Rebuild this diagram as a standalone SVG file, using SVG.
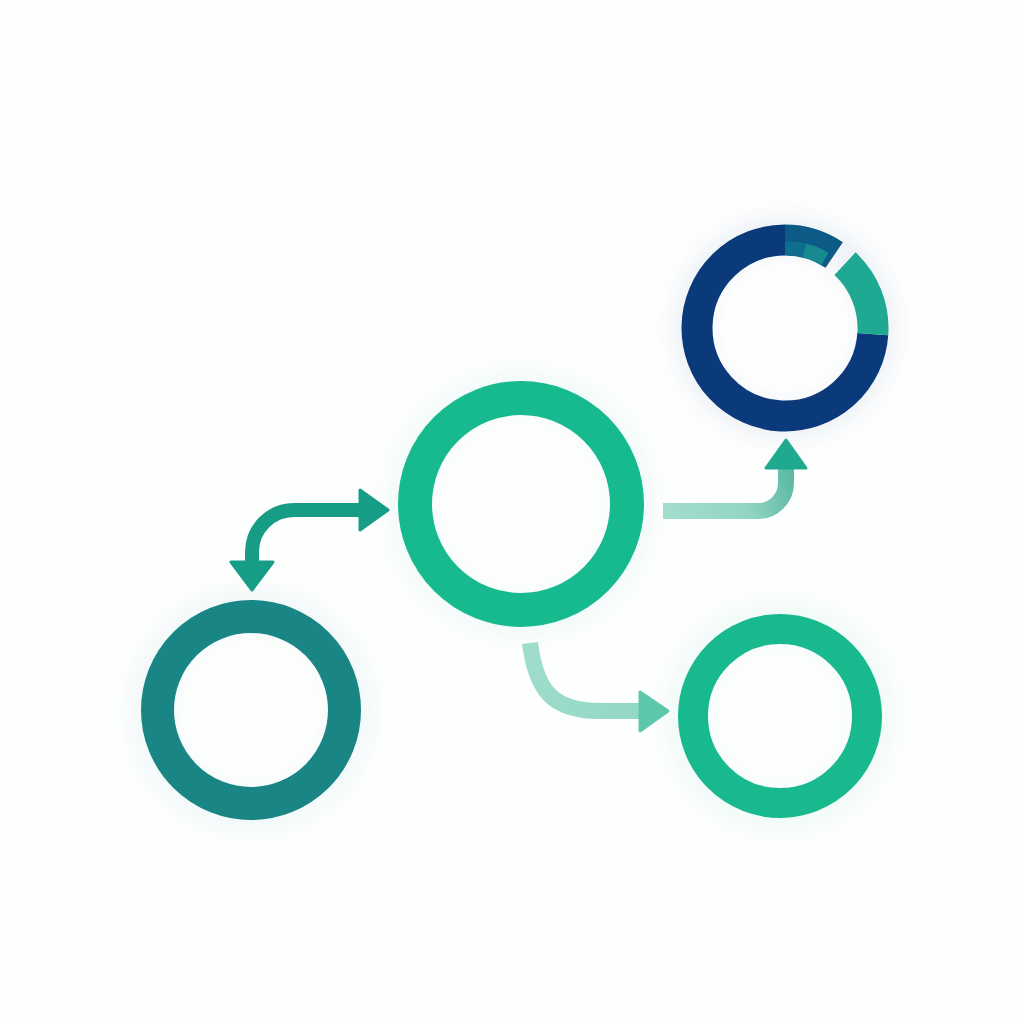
<svg xmlns="http://www.w3.org/2000/svg" width="1024" height="1024" viewBox="0 0 1024 1024">
  <defs>
    <style>
      .ring { fill: none; }
      .conn { fill: none; stroke-linecap: butt; stroke-linejoin: round; }
    </style>
    <filter id="halo" x="-30%" y="-30%" width="160%" height="160%">
      <feGaussianBlur stdDeviation="10"/>
    </filter>
    <linearGradient id="gUp" gradientUnits="userSpaceOnUse" x1="663" y1="511" x2="790" y2="470">
      <stop offset="0" stop-color="#a3ddcd"/>
      <stop offset="0.6" stop-color="#93d5c3"/>
      <stop offset="1" stop-color="#5cb9a4"/>
    </linearGradient>
    <linearGradient id="gDown" gradientUnits="userSpaceOnUse" x1="530" y1="643" x2="645" y2="711">
      <stop offset="0" stop-color="#a0dccb"/>
      <stop offset="1" stop-color="#93d8c6"/>
    </linearGradient>
  </defs>

  <rect width="1024" height="1024" fill="#fdfefe"/>

  <g id="halos" filter="url(#halo)" opacity="0.05">
    <circle cx="251" cy="710" r="100" fill="none" stroke="#1a8585" stroke-width="40"/>
    <circle cx="521" cy="504" r="112" fill="none" stroke="#17b98f" stroke-width="40"/>
    <circle cx="780" cy="716" r="94" fill="none" stroke="#17b98f" stroke-width="40"/>
    <circle cx="785" cy="328" r="94" fill="none" stroke="#0b3a7a" stroke-width="40"/>
  </g>

  <g id="node-left">
    <circle class="ring" cx="251" cy="710" r="93.5" stroke="#1a8585" stroke-width="33"/>
  </g>

  <g id="node-center">
    <circle class="ring" cx="521" cy="504" r="106" stroke="#17b98f" stroke-width="34"/>
  </g>

  <g id="node-bottom-right">
    <circle class="ring" cx="780" cy="716" r="87" stroke="#19b98f" stroke-width="30"/>
  </g>

  <g id="node-top-right">
    <path class="ring" d="M872.8 334.1 A88 88 0 1 1 785 240" stroke="#0b3a7a" stroke-width="31"/>
    <path class="ring" d="M785 240 A88 88 0 0 1 834.2 255.0" stroke="#0b5b86" stroke-width="31"/>
    <path class="ring" d="M785 248 A80 80 0 0 1 804.4 250.4" stroke="#0d6e8d" stroke-width="14"/>
    <path class="ring" d="M804.4 250.4 A80 80 0 0 1 825 258.7" stroke="#168a8f" stroke-width="14"/>
    <path class="ring" d="M845.0 263.7 A88 88 0 0 1 872.8 334.1" stroke="#1fa993" stroke-width="31"/>
  </g>

  <g id="connectors">
    <!-- double-headed curved arrow -->
    <path class="conn" d="M252 564 V552 A42 42 0 0 1 294 510 H362" stroke="#179d86" stroke-width="14"/>
    <path d="M360 490 L388 510 L360 530 Z" fill="#179d86" stroke="#179d86" stroke-width="3" stroke-linejoin="round"/>
    <path d="M231 562 L273 562 L252 590 Z" fill="#179d86" stroke="#179d86" stroke-width="3" stroke-linejoin="round"/>

    <!-- center to top-right -->
    <path class="conn" d="M663 511 H758 A28 28 0 0 0 786 483 V467" stroke="url(#gUp)" stroke-width="16"/>
    <path d="M766 468 L786 440 L806 468 Z" fill="#1fa98e" stroke="#1fa98e" stroke-width="3" stroke-linejoin="round"/>

    <!-- center to bottom-right -->
    <path class="conn" d="M530 643 C536 690 552 711 600 711 H642" stroke="url(#gDown)" stroke-width="16"/>
    <path d="M640 692 L668 711 L640 731 Z" fill="#5cc7ab" stroke="#5cc7ab" stroke-width="3" stroke-linejoin="round"/>
  </g>
</svg>
